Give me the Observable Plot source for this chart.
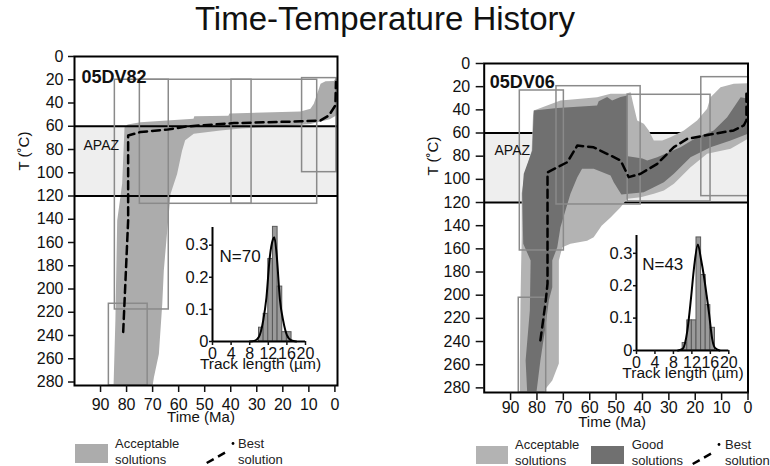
<!DOCTYPE html>
<html><head><meta charset="utf-8">
<script src="https://cdn.jsdelivr.net/npm/d3@7"></script>
<script src="https://cdn.jsdelivr.net/npm/@observablehq/plot@0.6"></script>
<style>
body{margin:0;background:#fff;}
#root{position:relative;width:770px;height:466px;overflow:hidden;font-family:"Liberation Sans",Arial,Helvetica,sans-serif;color:#111;background:#fff;}
#title{position:absolute;left:0;top:0px;width:770px;text-align:center;font-size:33px;line-height:38px;}
.leg{position:absolute;font-size:13px;line-height:15.5px;color:#222;white-space:nowrap;}
.mainp g[aria-label$="tick label"], .mainp g[aria-label$="tick label"] text{font-size:16px;}
.insetp g[aria-label="x-axis tick label"], .insetp g[aria-label="x-axis tick label"] text{font-size:16px;}
.insetp g[aria-label="y-axis tick label"], .insetp g[aria-label="y-axis tick label"] text{font-size:16.5px;}
</style></head>
<body><div id="root"><div id="title">Time-Temperature History</div></div>
<script>
const FONT = '"Liberation Sans", Arial, Helvetica, sans-serif';

// ---------- shared axis values ----------
const timeTicks = [90, 80, 70, 60, 50, 40, 30, 20, 10, 0];
const tempTicks = [0, 20, 40, 60, 80, 100, 120, 140, 160, 180, 200, 220, 240, 260, 280];
const apazBounds = [60, 120];
const lengthTicks = [0, 4, 8, 12, 16, 20];
const freqTicks = [0, 0.1, 0.2, 0.3];

// ---------- 05DV82 (left) ----------
const dv82Name = "05DV82";
const dv82N = 70;
// acceptable envelope [time Ma, T °C]
const dv82Acceptable = [[80.8,61],[79.6,58.5],[74.7,56.5],[54.3,53.6],[54,51.5],[40.9,51],[40.5,49],[13.2,47.3],[9.4,45],[8.1,40.7],[5.5,23.5],[3.6,21.2],[0.4,21],[-0.2,19],[-1,19],[-1,50],[2,54],[9.4,58],[20,60],[36,62],[44,63.7],[54.2,66.5],[57.5,72],[58.7,81],[60.6,101],[63.1,118],[64.4,150],[65.7,184],[66.3,213],[67.6,256],[69.5,276],[70,283],[85,283],[84.3,227],[83.6,141],[81.7,109.5]];
const dv82Best = [[81.3,237],[79.4,141],[79.4,68],[74.7,65],[64.4,62.9],[56.7,60.1],[38.8,57.3],[13.2,55.8],[5.5,55],[2.3,50.7],[-0.2,42],[-0.4,22]];
// constraint boxes [t1, t2, T1, T2]
const dv82Boxes = [[84.5,63.8,20,217.6],[74.9,32.0,20,126.7],[39.7,6.8,20,126.7],[12.6,-0.6,18.6,99.5],[86.8,71.9,212.7,283]];
const dv82BinStart = [10, 11, 12, 13, 14, 15, 16];
const dv82BinFreq = [0.043, 0.086, 0.257, 0.357, 0.171, 0.029, 0.029];
const dv82Fit = [[8,0],[9,0.002],[10,0.015],[10.9,0.065],[11.6,0.137],[12.3,0.26],[13,0.318],[13.3,0.325],[13.8,0.27],[14.5,0.13],[15.2,0.065],[16,0.02],[17,0.003],[18,0]];

// ---------- 05DV06 (right) ----------
const dv06Name = "05DV06";
const dv06N = 43;
const dv06Acceptable = [[81.2,40.6],[71.1,31.9],[63.5,30.5],[57.2,29.1],[52.1,26.2],[46.4,26.2],[44.5,24.8],[43.5,35],[42,49.2],[39.5,52.1],[37.6,57.8],[35.7,66.5],[32.5,66.5],[29.4,63.6],[24.3,57.8],[19.3,49.2],[15.5,39.1],[14.2,29.1],[10.4,20.5],[5.4,17.5],[0,17],[0,65],[6.6,73.6],[15.5,78],[21.8,89.5],[25.6,98.1],[28.1,103.9],[31.9,109.6],[35.7,112.5],[40.7,115.4],[45.8,116.8],[48.3,124],[52.1,133],[55.5,140],[58.5,150],[61,153],[67.3,155.6],[70.4,158.6],[71.7,170],[71.7,259],[74.2,273.6],[76.8,281],[77.2,284],[86.5,284],[86.5,260],[86.2,200],[85.8,150],[85.8,112],[84.5,95],[82,75],[81.5,45]];
const dv06Good = [[81.2,40.6],[72.3,38.5],[57.2,36.3],[56.6,32.5],[53.4,29],[51.5,32],[48.3,29],[45.8,27.6],[45.6,60],[45.5,80],[40,82],[38.2,83.7],[34.4,80.9],[25.6,72.2],[19.3,63.6],[13,57.8],[7.9,46.3],[2.8,29.1],[0.9,30],[0,28],[0,60.7],[6.6,66.5],[14.2,72.2],[21.8,80.9],[28.1,95.2],[31.9,102.4],[35.7,106.8],[39.5,111.1],[45.2,112.5],[48,113],[50.9,102.4],[52.1,96.7],[58.5,90.9],[62.9,90.9],[64.7,98.1],[67.3,112.5],[69.2,126.9],[71.1,141.3],[72.3,158.6],[74.2,170],[74.2,193.1],[75.5,204.5],[76.8,227.6],[78.7,256.4],[80.2,284],[83.7,284],[84.3,256.4],[82.7,213.2],[82.4,170],[85.2,155.6],[85.6,112.5],[85,95.2],[81.8,75.1]];
const dv06Best = [[78.7,239],[76.8,207.4],[76,190],[76,94],[68.5,85.2],[64.7,70.8],[58.5,72.3],[48.3,83.7],[45.2,98.1],[40.7,95.2],[34.4,86.6],[28.1,72.2],[23,65],[13,60.7],[5.4,57.8],[1.6,53.5],[0.6,49],[0.6,24]];
const dv06Boxes = [[86.5,69.8,23.3,161.4],[72.6,40.7,19.6,121.7],[45.6,14.2,27,119.1],[17.7,-0.3,11.8,114.5],[86.9,76.5,202.2,284]];
const dv06BinStart = [10, 11, 12, 13, 14, 15, 16];
const dv06BinFreq = [0.023, 0.093, 0.093, 0.349, 0.233, 0.14, 0.07];
const dv06Fit = [[9,0],[10,0.005],[11,0.06],[11.8,0.16],[12.5,0.26],[13.3,0.327],[14,0.28],[14.6,0.23],[15.2,0.17],[15.7,0.117],[16.4,0.036],[17,0.008],[18,0]];

// ---------- colours ----------
const colAccLeft = "#acacac", colAccRight = "#b3b3b3", colGood = "#707070", colApaz = "#eeeeee", colBox = "#8a8a8a";

const root = document.getElementById("root");
function place(el, left, top) {
  el.style.position = "absolute"; el.style.left = left + "px"; el.style.top = top + "px";
  root.appendChild(el);
}

function mainPanel(c) {
  const poly = (pts, fill) => Plot.line(pts, {x: d => d[0], y: d => d[1], fill, stroke: "none", curve: "linear-closed"});
  const marks = [
    Plot.rect([apazBounds], {x1: c.xDomain[0], x2: c.xDomain[1], y1: d => d[0], y2: d => d[1], fill: colApaz})
  ];
  const rules = Plot.ruleY(apazBounds, {stroke: "#000", strokeWidth: 2});
  if (c.linesUnder) marks.push(rules);
  for (const [pts, fill] of c.fills) marks.push(poly(pts, fill));
  if (!c.linesUnder) marks.push(rules);
  marks.push(
    Plot.rect(c.boxes, {x1: d => d[0], x2: d => d[1], y1: d => d[2], y2: d => d[3], fill: "none", stroke: colBox, strokeWidth: 1.5}),
    Plot.line(c.best, {x: d => d[0], y: d => d[1], stroke: "#000", strokeWidth: 2.5, strokeDasharray: "8,5"}),
    Plot.frame({stroke: "#000", strokeWidth: 2}),
    Plot.axisY({ticks: tempTicks, tickSize: c.ytick, tickPadding: c.ypad, tickFormat: d => String(d), label: null, strokeWidth: 1.5, fontSize: 16}),
    Plot.axisX({ticks: timeTicks, tickSize: c.xtick, tickPadding: c.xpad, tickFormat: d => String(d), label: null, strokeWidth: 1.5, fontSize: 16}),
    Plot.text([c.name], {frameAnchor: "top-left", dx: c.nameDx, dy: c.nameDy, textAnchor: "start", fontWeight: "bold", fontSize: 18}),
    Plot.text(["APAZ"], {frameAnchor: "top-left", dx: c.apazDx, dy: c.apazDy, textAnchor: "start", fontSize: 14}),
    Plot.text(["T (˚C)"], {frameAnchor: "top-left", dx: c.ylabDx, dy: c.ylabDy, rotate: -90, fontSize: 15}),
    Plot.text(["Time (Ma)"], {frameAnchor: "bottom", dx: c.xlabDx, dy: c.xlabDy, fontSize: 15})
  );
  return Plot.plot({
    className: "mainp",
    width: 385, height: c.height,
    marginLeft: c.ml, marginRight: c.mr, marginTop: c.mt, marginBottom: c.mb,
    style: {fontFamily: FONT, fontSize: "16px", color: "#111", background: "transparent", overflow: "visible"},
    x: {domain: c.xDomain},
    y: {domain: c.yDomain, reverse: true},
    marks
  });
}

function inset(c) {
  const bins = c.binStart.map((s, i) => ({x1: s, x2: s + 1, y: c.freq[i]}));
  return Plot.plot({
    className: "insetp",
    width: 145, height: 165,
    marginLeft: 40, marginRight: c.mr, marginTop: 5, marginBottom: c.mb,
    style: {fontFamily: FONT, fontSize: "16px", color: "#111", background: "transparent", overflow: "visible"},
    x: {domain: [0, 20]},
    y: {domain: [0, 0.355]},
    marks: [
      Plot.rectY(bins, {x1: "x1", x2: "x2", y: "y", fill: "#9a9a9a", stroke: "#5a5a5a", strokeWidth: 1}),
      Plot.line(c.fit, {x: d => d[0], y: d => d[1], stroke: "#000", strokeWidth: 2, curve: "monotone-x"}),
      Plot.ruleX([0], {stroke: "#000", strokeWidth: 2}),
      Plot.ruleY([0], {stroke: "#000", strokeWidth: 2}),
      Plot.axisX({ticks: lengthTicks, tickSize: 4, tickPadding: 2, tickFormat: d => String(d), label: null, strokeWidth: 1.5, fontSize: 16}),
      Plot.axisY({ticks: freqTicks, tickSize: 3, tickPadding: 1, tickFormat: d => String(d), label: null, strokeWidth: 1.5, fontSize: 16.5}),
      Plot.text(["N=" + c.n], {frameAnchor: "top-left", dx: c.nDx, dy: c.nDy, textAnchor: "start", fontSize: 17}),
      Plot.text(["Track length (µm)"], {frameAnchor: "bottom", dx: c.tlDx, dy: 27, fontSize: 15.5})
    ]
  });
}

// left panel
place(mainPanel({
  name: dv82Name, height: 385, ml: 74, mr: 48, mt: 16, mb: 40,
  xDomain: [100, -1], yDomain: [0, 283],
  fills: [[dv82Acceptable, colAccLeft]], linesUnder: false,
  boxes: dv82Boxes, best: dv82Best,
  ytick: 6, ypad: 5, xtick: 7, xpad: 6,
  nameDx: 7, nameDy: 14, apazDx: 9, apazDy: 83.5,
  ylabDx: -56, ylabDy: 114, xlabDx: -5, xlabDy: 36.7
}), 0, 40);

// right panel
place(mainPanel({
  name: dv06Name, height: 425, ml: 98.7, mr: 22.5, mt: 23, mb: 73,
  xDomain: [100, 0], yDomain: [0, 284],
  fills: [[dv06Acceptable, colAccRight], [dv06Good, colGood]], linesUnder: true,
  boxes: dv06Boxes, best: dv06Best,
  ytick: 8, ypad: 6, xtick: 8, xpad: 1,
  nameDx: 5.6, nameDy: 12, apazDx: 10.3, apazDy: 81.8,
  ylabDx: -57, ylabDy: 112, xlabDx: -4, xlabDy: 34.7
}), 385, 40);

// insets
place(inset({binStart: dv82BinStart, freq: dv82BinFreq, fit: dv82Fit, n: dv82N, mr: 12, mb: 46, nDx: 7, nDy: 22.6, tlDx: 1.5}), 172, 222);
place(inset({binStart: dv06BinStart, freq: dv06BinFreq, fit: dv06Fit, n: dv06N, mr: 12.7, mb: 45, nDx: 5.7, nDy: 22.9, tlDx: 0.3}), 596, 230);

// legends
function swatch(left, top, w, h, color) {
  const d = document.createElement("div");
  d.style.width = w + "px"; d.style.height = h + "px"; d.style.background = color;
  place(d, left, top);
}
function label(left, top, lines) {
  const d = document.createElement("div");
  d.className = "leg"; d.innerHTML = lines.join("<br>");
  place(d, left, top);
}
function dashSym(left, top) {
  const ns = "http://www.w3.org/2000/svg";
  const s = document.createElementNS(ns, "svg");
  s.setAttribute("width", 40); s.setAttribute("height", 26);
  s.innerHTML = '<line x1="6.7" y1="23" x2="26.7" y2="11.7" stroke="#000" stroke-width="2.5" stroke-dasharray="8,5"/><circle cx="33" cy="3.5" r="1.4" fill="#000"/>';
  place(s, left, top);
}
swatch(75, 444, 33, 19, colAccLeft);
label(115, 436, ["Acceptable", "solutions"]);
dashSym(200, 440);
label(238, 436, ["Best", "solution"]);

swatch(476, 446, 32, 18, colAccRight);
label(515, 437, ["Acceptable", "solutions"]);
swatch(591, 446, 33, 18, colGood);
label(631.7, 437, ["Good", "solutions"]);
dashSym(686, 440.5);
label(725, 437, ["Best", "solution"]);
</script></body></html>
